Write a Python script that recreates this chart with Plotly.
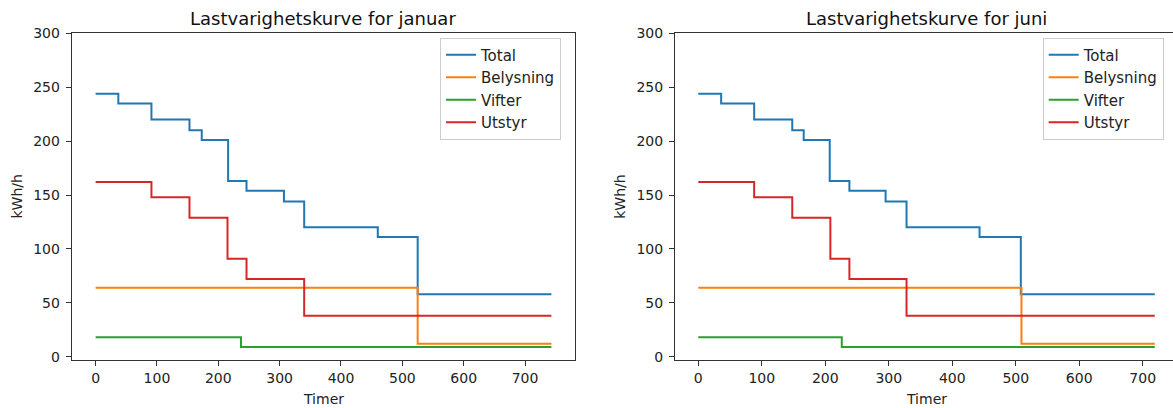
import plotly.graph_objects as go

# ---- data ----
series_names = ["Total", "Belysning", "Vifter", "Utstyr"]
colors = ["#1f77b4", "#ff7f0e", "#2ca02c", "#d62728"]

jan_total_x = [0, 37, 91, 153, 173, 216, 246, 307, 340, 460, 525, 743]
jan_total_y = [244, 235, 220, 210, 201, 163, 154, 144, 120, 111, 58, 58]
jan_bel_x = [0, 525, 743]
jan_bel_y = [64, 12, 12]
jan_vif_x = [0, 237, 743]
jan_vif_y = [18, 9, 9]
jan_uts_x = [0, 91, 153, 215, 246, 340, 743]
jan_uts_y = [162, 148, 129, 91, 72, 38, 38]

jun_total_x = [0, 36, 88, 148, 166, 207, 238, 295, 328, 443, 508, 719]
jun_total_y = [244, 235, 220, 210, 201, 163, 154, 144, 120, 111, 58, 58]
jun_bel_x = [0, 509, 719]
jun_bel_y = [64, 12, 12]
jun_vif_x = [0, 226, 719]
jun_vif_y = [18, 9, 9]
jun_uts_x = [0, 88, 148, 208, 238, 328, 719]
jun_uts_y = [162, 148, 129, 91, 72, 38, 38]

titles = ["Lastvarighetskurve for januar", "Lastvarighetskurve for juni"]
x_label = "Timer"
y_label = "kWh/h"
x_ticks = [0, 100, 200, 300, 400, 500, 600, 700]
y_ticks = [0, 50, 100, 150, 200, 250, 300]

W, H = 1173, 408
FONT = "DejaVu Sans"

fig = go.Figure()

jan = [(jan_total_x, jan_total_y), (jan_bel_x, jan_bel_y), (jan_vif_x, jan_vif_y), (jan_uts_x, jan_uts_y)]
jun = [(jun_total_x, jun_total_y), (jun_bel_x, jun_bel_y), (jun_vif_x, jun_vif_y), (jun_uts_x, jun_uts_y)]

for i, (xs, ys) in enumerate(jan):
    fig.add_trace(go.Scatter(x=xs, y=ys, mode="lines", name=series_names[i],
                             line=dict(color=colors[i], width=2, shape="hv"),
                             xaxis="x", yaxis="y", legend="legend"))
for i, (xs, ys) in enumerate(jun):
    fig.add_trace(go.Scatter(x=xs, y=ys, mode="lines", name=series_names[i],
                             line=dict(color=colors[i], width=2, shape="hv"),
                             xaxis="x2", yaxis="y2", legend="legend2"))

def px_x(p):
    return p / W

def px_y(p):
    return 1 - p / H

ax_common = dict(showline=True, linecolor="#333", linewidth=1, mirror=True,
                 ticks="outside", ticklen=5, tickcolor="#333", tickwidth=1,
                 showgrid=False, zeroline=False, automargin=False,
                 tickfont=dict(family=FONT, size=14, color="#222"))

legend_common = dict(xanchor="left", yanchor="top",
                     bgcolor="rgba(255,255,255,0.8)", bordercolor="#ccc", borderwidth=1,
                     font=dict(family=FONT, size=15, color="#222"), tracegroupgap=0)

fig.update_layout(
    width=W, height=H,
    margin=dict(l=0, r=0, t=0, b=0, pad=0, autoexpand=False),
    paper_bgcolor="white", plot_bgcolor="white",
    font=dict(family=FONT, size=14, color="#222"),
    xaxis=dict(domain=[px_x(71.7), px_x(574.7)], range=[-39, 781],
               tickvals=x_ticks, anchor="y", **ax_common),
    yaxis=dict(domain=[px_y(360.3), px_y(33.3)], range=[-3.3, 300],
               tickvals=y_ticks, anchor="x", ticklabelstandoff=3, **ax_common),
    xaxis2=dict(domain=[px_x(675), 1.0], range=[-36.7, 747.7],
                tickvals=x_ticks, anchor="y2", **ax_common),
    yaxis2=dict(domain=[px_y(360.3), px_y(33.3)], range=[-3.3, 300],
                tickvals=y_ticks, anchor="x2", ticklabelstandoff=3, **ax_common),
    legend=dict(x=px_x(440), y=px_y(37.5), **legend_common),
    legend2=dict(x=px_x(1042.7), y=px_y(37.5), **legend_common),
    showlegend=True,
)

annotations = []
for cx, t in [((71.7 + 574.7) / 2, titles[0]), ((675 + 1177) / 2, titles[1])]:
    annotations.append(dict(text=t, x=px_x(cx), y=px_y(18.5), xref="paper", yref="paper",
                            xanchor="center", yanchor="middle", showarrow=False,
                            font=dict(family=FONT, size=18, color="#111")))
for cx in [(71.7 + 574.7) / 2, (675 + 1177) / 2]:
    annotations.append(dict(text=x_label, x=px_x(cx), y=px_y(399), xref="paper", yref="paper",
                            xanchor="center", yanchor="middle", showarrow=False,
                            font=dict(family=FONT, size=14, color="#222")))
for cx in [16.7, 620]:
    annotations.append(dict(text=y_label, x=px_x(cx), y=px_y(196.8), xref="paper", yref="paper",
                            xanchor="center", yanchor="middle", showarrow=False, textangle=-90,
                            font=dict(family=FONT, size=14, color="#222")))
fig.update_layout(annotations=annotations)

fig.write_html("out.html")
